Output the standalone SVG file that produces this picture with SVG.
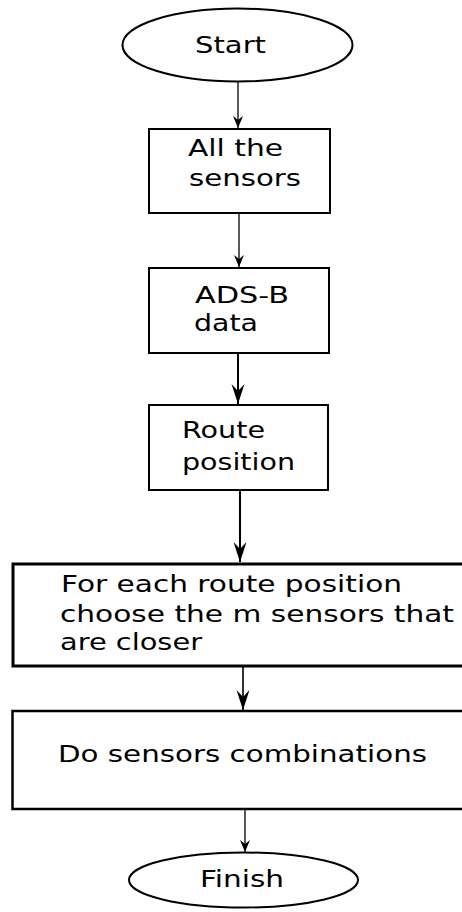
<svg xmlns="http://www.w3.org/2000/svg" width="462" height="912" viewBox="0 0 462 912">
  <style>
    .shape { fill: #ffffff; stroke: #000000; }
    .label { font-family: "DejaVu Sans", Verdana, sans-serif; font-size: 23px; fill: #000000; }
    .edge { stroke: #000000; fill: none; }
  </style>
  <defs>
    <marker id="headSmall" markerUnits="userSpaceOnUse" viewBox="-13 -6 14 12" refX="0" refY="0" markerWidth="14" markerHeight="12" orient="auto">
      <path d="M0,0 L-12,-5 L-8,0 L-12,5 Z" fill="#000" stroke="none"/>
    </marker>
    <marker id="headLarge" markerUnits="userSpaceOnUse" viewBox="-21 -7 22 14" refX="0" refY="0" markerWidth="22" markerHeight="14" orient="auto">
      <path d="M0,0 L-20,-6.5 L-13,0 L-20,6.5 Z" fill="#000" stroke="none"/>
    </marker>
  </defs>
  <rect width="462" height="912" fill="#ffffff"/>

  <!-- connectors -->
  <g id="connectors" class="edge">
    <line x1="238" y1="82" x2="238" y2="128" stroke-width="1.3" marker-end="url(#headSmall)"/>
    <line x1="239" y1="213" x2="239" y2="267" stroke-width="1.3" marker-end="url(#headSmall)"/>
    <line x1="238" y1="353" x2="238" y2="404" stroke-width="2" marker-end="url(#headLarge)"/>
    <line x1="240" y1="490" x2="240" y2="562" stroke-width="2" marker-end="url(#headLarge)"/>
    <line x1="243" y1="667" x2="243" y2="710" stroke-width="1.6" marker-end="url(#headLarge)"/>
    <line x1="245" y1="809" x2="245" y2="852" stroke-width="1.3" marker-end="url(#headSmall)"/>
  </g>

  <!-- flowchart nodes -->
  <g id="start">
    <ellipse class="shape" cx="237.5" cy="45" rx="115" ry="36.5" stroke-width="2"/>
    <text class="label" x="195" y="53" font-size="25" textLength="71" lengthAdjust="spacingAndGlyphs">Start</text>
  </g>

  <g id="all-sensors">
    <rect class="shape" x="149" y="129" width="181" height="84" stroke-width="2"/>
    <text class="label" x="188" y="156" textLength="95" lengthAdjust="spacingAndGlyphs">All the</text>
    <text class="label" x="189" y="186" textLength="112" lengthAdjust="spacingAndGlyphs">sensors</text>
  </g>

  <g id="adsb-data">
    <rect class="shape" x="149" y="268" width="180" height="85" stroke-width="2"/>
    <text class="label" x="195" y="303" textLength="94" lengthAdjust="spacingAndGlyphs">ADS-B</text>
    <text class="label" x="194" y="331" textLength="64" lengthAdjust="spacingAndGlyphs">data</text>
  </g>

  <g id="route-position">
    <rect class="shape" x="149" y="405" width="179" height="85" stroke-width="2"/>
    <text class="label" x="182" y="438" textLength="83" lengthAdjust="spacingAndGlyphs">Route</text>
    <text class="label" x="182" y="470" textLength="113" lengthAdjust="spacingAndGlyphs">position</text>
  </g>

  <g id="choose-sensors">
    <rect class="shape" x="13" y="564" width="460" height="102" stroke-width="3"/>
    <text class="label" x="61" y="592" textLength="341" lengthAdjust="spacingAndGlyphs">For each route position</text>
    <text class="label" x="60" y="622" textLength="394" lengthAdjust="spacingAndGlyphs">choose the m sensors that</text>
    <text class="label" x="60" y="650" textLength="142" lengthAdjust="spacingAndGlyphs">are closer</text>
  </g>

  <g id="combinations">
    <rect class="shape" x="12.5" y="711" width="460" height="98" stroke-width="2.5"/>
    <text class="label" x="58" y="762" textLength="369" lengthAdjust="spacingAndGlyphs">Do sensors combinations</text>
  </g>

  <g id="finish">
    <ellipse class="shape" cx="243.5" cy="880" rx="114.5" ry="27.5" stroke-width="2"/>
    <text class="label" x="200" y="887" font-size="24" textLength="84" lengthAdjust="spacingAndGlyphs">Finish</text>
  </g>
</svg>
